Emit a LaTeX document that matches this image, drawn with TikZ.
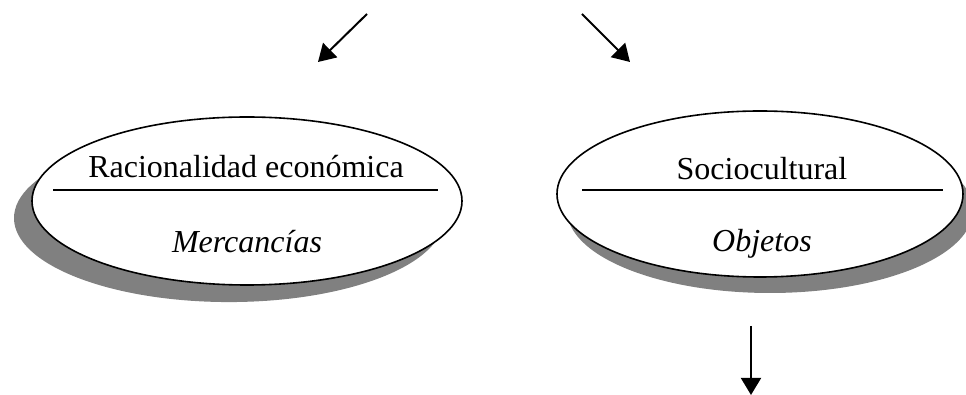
\documentclass[tikz,border=0pt]{standalone}
\usepackage{fontspec}
\setmainfont{Liberation Serif}
\usetikzlibrary{positioning, arrows.meta, shapes.geometric, shadows}

\begin{document}
\begin{tikzpicture}[x=0.375pt, y=-0.375pt,
    font=\fontsize{12}{14}\selectfont,
    esfera/.style={ellipse, draw, line width=0.6pt, fill=white, inner sep=0pt},
    flecha/.style={-{Triangle[length=6.4pt, width=7.5pt]}, line width=0.75pt},
    raya/.style={line width=0.6pt}]
    \useasboundingbox (0,0) rectangle (966,395);

    % Left ellipse: economic rationality
    \node[esfera, minimum width=161.25pt, minimum height=63pt,
          drop shadow={shadow xshift=-6.75pt, shadow yshift=-6.4pt, fill=gray, opacity=1}]
          (racional) at (247,201) {};
    \node[anchor=base] (racionaltit) at (246,178) {Racionalidad económica};
    \draw[raya] (53,190) -- (438,190);
    \node[anchor=base] (mercancias) at (247,253) {\textit{Mercancías}};

    % Right ellipse: sociocultural
    \node[esfera, minimum width=152.25pt, minimum height=62.25pt,
          drop shadow={shadow xshift=3.75pt, shadow yshift=-6pt, fill=gray, opacity=1}]
          (socio) at (760,194) {};
    \node[anchor=base] (sociotit) at (762,180) {Sociocultural};
    \draw[raya] (582,190) -- (943,190);
    \node[anchor=base] (objetos) at (762,252) {\textit{Objetos}};

    % Arrows
    \coordinate (arribaizq) at (367,14);
    \coordinate (racionalin) at (318,62);
    \coordinate (arribader) at (582,14);
    \coordinate (socioin) at (630,62);
    \coordinate (sociofuera) at (751,326);
    \coordinate (abajo) at (751,395);
    \draw[flecha] (arribaizq) -- (racionalin);
    \draw[flecha] (arribader) -- (socioin);
    \draw[flecha] (sociofuera) -- (abajo);
\end{tikzpicture}
\end{document}
